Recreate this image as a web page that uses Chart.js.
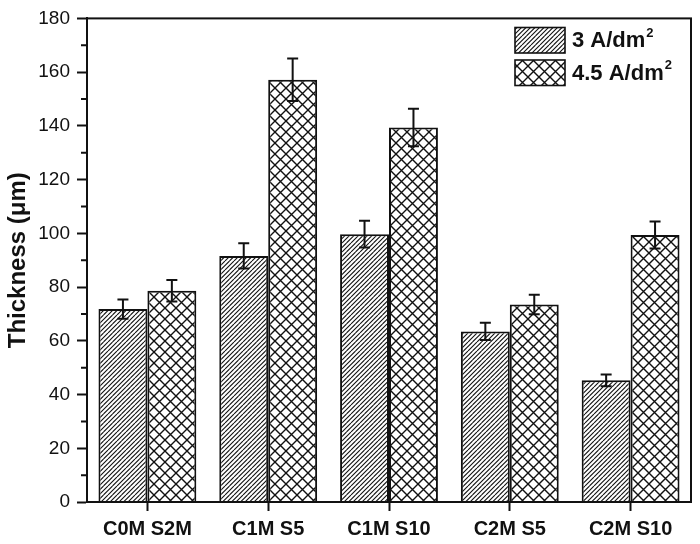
<!DOCTYPE html>
<html>
<head>
<meta charset="utf-8">
<script src="https://cdn.jsdelivr.net/npm/chart.js@4.4.0/dist/chart.umd.min.js"></script>
<style>
  html, body { margin: 0; padding: 0; background: #fff; }
  canvas { display: block; }
</style>
</head>
<body>
<canvas id="c" width="700" height="544"></canvas>
<script>
// ---- data ----
const categories = ["C0M S2M", "C1M S5", "C1M S10", "C2M S5", "C2M S10"];
const series3A = [71.8, 91.6, 99.7, 63.5, 45.3];
const err3A = [3.6, 4.7, 5.0, 3.2, 2.2];
const series45A = [78.6, 157.2, 139.4, 73.5, 99.4];
const err45A = [4.0, 7.9, 7.0, 3.6, 5.0];
const seriesLabels = ["3 A/dm", "4.5 A/dm"];
const yTicks = [0, 20, 40, 60, 80, 100, 120, 140, 160, 180];

// ---- patterns ----
function hatchPattern() {
  const s = 9;
  const t = document.createElement('canvas');
  t.width = s; t.height = s;
  const g = t.getContext('2d');
  g.fillStyle = '#fff'; g.fillRect(0, 0, s, s);
  g.strokeStyle = '#111'; g.lineWidth = 1.1;
  g.beginPath();
  for (const k of [-9, -4.5, 0, 4.5, 9]) { g.moveTo(k, s); g.lineTo(k + s, 0); }
  g.stroke();
  return g.createPattern(t, 'repeat');
}
function crossPattern() {
  const s = 11;
  const t = document.createElement('canvas');
  t.width = s; t.height = s;
  const g = t.getContext('2d');
  g.fillStyle = '#fff'; g.fillRect(0, 0, s, s);
  g.strokeStyle = '#111'; g.lineWidth = 1.4;
  g.beginPath();
  g.moveTo(0, s); g.lineTo(s, 0);
  g.moveTo(0, 0); g.lineTo(s, s);
  g.stroke();
  return g.createPattern(t, 'repeat');
}
const patA = hatchPattern();
const patB = crossPattern();
const errs = [err3A, err45A];

const errorBars = {
  id: 'errorBars',
  afterDatasetsDraw(chart) {
    const ctx = chart.ctx, ys = chart.scales.y;
    ctx.save();
    ctx.strokeStyle = '#111'; ctx.lineWidth = 2;
    chart.data.datasets.forEach((ds, di) => {
      const meta = chart.getDatasetMeta(di);
      meta.data.forEach((bar, i) => {
        const v = ds.data[i], e = errs[di][i];
        const yt = ys.getPixelForValue(v + e), yb = ys.getPixelForValue(v - e);
        const x = bar.x, w = 5.5;
        ctx.beginPath();
        ctx.moveTo(x, yt); ctx.lineTo(x, yb);
        ctx.moveTo(x - w, yt); ctx.lineTo(x + w, yt);
        ctx.moveTo(x - w, yb); ctx.lineTo(x + w, yb);
        ctx.stroke();
      });
    });
    ctx.restore();
  }
};

const frame = {
  id: 'frame',
  afterDraw(chart) {
    const ctx = chart.ctx, a = chart.chartArea, ys = chart.scales.y;
    ctx.save();
    ctx.strokeStyle = '#111'; ctx.lineWidth = 2;
    ctx.strokeRect(a.left, a.top, a.right - a.left, a.bottom - a.top);
    // minor ticks
    ctx.beginPath();
    for (let v = 10; v < 180; v += 20) {
      const y = ys.getPixelForValue(v);
      ctx.moveTo(a.left - 6, y); ctx.lineTo(a.left, y);
    }
    ctx.stroke();
    // legend
    const pats = [patA, patB];
    const rows = [{ y: 27.5 }, { y: 60 }];
    chart.data.datasets.forEach((ds, i) => {
      const by = rows[i].y;
      ctx.fillStyle = pats[i];
      ctx.fillRect(515, by, 50, 25.5);
      ctx.lineWidth = 1.6;
      ctx.strokeRect(515, by, 50, 25.5);
      ctx.fillStyle = '#111';
      ctx.font = 'bold 22px "Liberation Sans", Arial, sans-serif';
      ctx.textBaseline = 'middle';
      ctx.textAlign = 'left';
      const cy = by + 13.5;
      ctx.fillText(ds.label, 572, cy);
      const w = ctx.measureText(ds.label).width;
      ctx.font = 'bold 13px "Liberation Sans", Arial, sans-serif';
      ctx.fillText('2', 572 + w + 1, cy - 8);
    });
    ctx.restore();
  }
};

new Chart(document.getElementById('c'), {
  type: 'bar',
  data: {
    labels: categories,
    datasets: [
      { label: seriesLabels[0], data: series3A, backgroundColor: patA, borderColor: '#111', borderWidth: 2 },
      { label: seriesLabels[1], data: series45A, backgroundColor: patB, borderColor: '#111', borderWidth: 2 }
    ]
  },
  options: {
    responsive: false,
    animation: false,
    devicePixelRatio: 1,
    categoryPercentage: 0.81,
    barPercentage: 1.0,
    layout: { padding: { top: 16.5, right: 9, left: 0, bottom: 0 } },
    plugins: { legend: { display: false }, tooltip: { enabled: false } },
    scales: {
      x: {
        offset: true,
        grid: { display: true, offset: false, drawOnChartArea: false, tickLength: 9, tickWidth: 2, tickColor: '#111' },
        border: { display: true, color: '#111', width: 2 },
        ticks: { color: '#111', padding: 6, font: { family: '"Liberation Sans", Arial, sans-serif', size: 20, weight: 'bold' }, maxRotation: 0 },
        afterFit(s) { s.height = 42; }
      },
      y: {
        min: 0, max: 180,
        afterBuildTicks(s) { s.ticks = yTicks.map(v => ({ value: v })); },
        grid: { display: true, drawOnChartArea: false, tickLength: 10, tickWidth: 2, tickColor: '#111' },
        border: { display: true, color: '#111', width: 2 },
        ticks: { color: '#111', padding: 7, font: { family: '"Liberation Sans", Arial, sans-serif', size: 19 } },
        title: { display: true, text: 'Thickness (μm)', color: '#111', padding: { top: 4, bottom: 0 },
                 font: { family: '"Liberation Sans", Arial, sans-serif', size: 24, weight: 'bold' } },
        afterFit(s) { s.width = 87; }
      }
    }
  },
  plugins: [errorBars, frame]
});
</script>
</body>
</html>
